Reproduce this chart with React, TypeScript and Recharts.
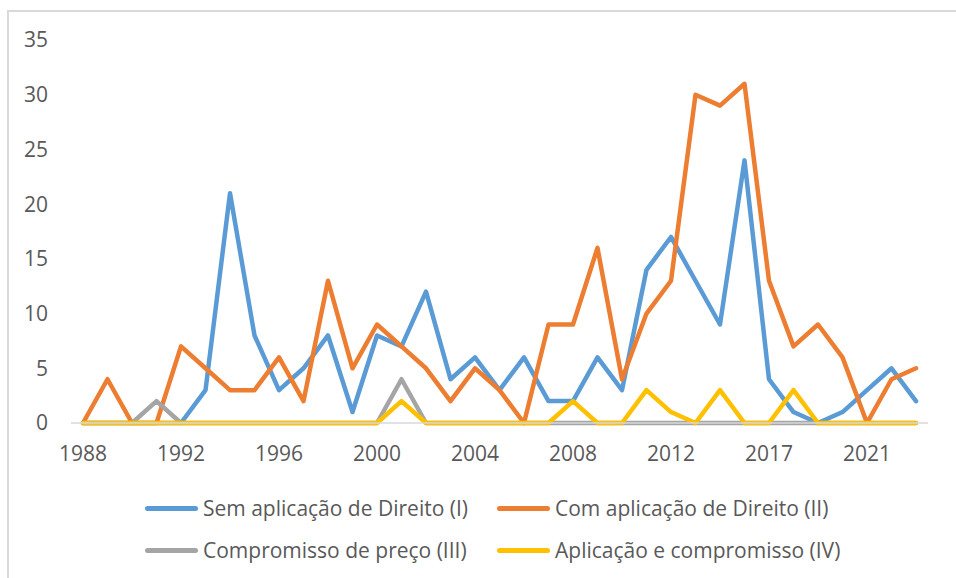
import React from 'react';
import { LineChart, Line, XAxis, YAxis, Legend } from 'recharts';

// Categories (the source skips 2016)
const years = [
  '1988', '1989', '1990', '1991', '1992', '1993', '1994', '1995', '1996', '1997',
  '1998', '1999', '2000', '2001', '2002', '2003', '2004', '2005', '2006', '2007',
  '2008', '2009', '2010', '2011', '2012', '2013', '2014', '2015', '2017', '2018',
  '2019', '2020', '2021', '2022', '2023',
];

const semAplicacao = [0, 0, 0, 0, 0, 3, 21, 8, 3, 5, 8, 1, 8, 7, 12, 4, 6, 3, 6, 2, 2, 6, 3, 14, 17, 13, 9, 24, 4, 1, 0, 1, 3, 5, 2];
const comAplicacao = [0, 4, 0, 0, 7, 5, 3, 3, 6, 2, 13, 5, 9, 7, 5, 2, 5, 3, 0, 9, 9, 16, 4, 10, 13, 30, 29, 31, 13, 7, 9, 6, 0, 4, 5];
const compromisso = [0, 0, 0, 2, 0, 0, 0, 0, 0, 0, 0, 0, 0, 4, 0, 0, 0, 0, 0, 0, 0, 0, 0, 0, 0, 0, 0, 0, 0, 0, 0, 0, 0, 0, 0];
const aplicacaoCompromisso = [0, 0, 0, 0, 0, 0, 0, 0, 0, 0, 0, 0, 0, 2, 0, 0, 0, 0, 0, 0, 2, 0, 0, 3, 1, 0, 3, 0, 0, 3, 0, 0, 0, 0, 0];

const yTicks = [0, 5, 10, 15, 20, 25, 30, 35];

const SERIES = [
  { key: 'sem', name: 'Sem aplicação de Direito (I)', color: '#5B9BD5' },
  { key: 'com', name: 'Com aplicação de Direito (II)', color: '#ED7D31' },
  { key: 'comp', name: 'Compromisso de preço (III)', color: '#A5A5A5' },
  { key: 'apl', name: 'Aplicação e compromisso (IV)', color: '#FFC000' },
];

const data = years.map((year, i) => ({
  year,
  sem: semAplicacao[i],
  com: comAplicacao[i],
  comp: compromisso[i],
  apl: aplicacaoCompromisso[i],
}));

const FONT = '"Open Sans", sans-serif';

const LegendBox = () => (
  <div
    style={{
      display: 'grid',
      gridTemplateColumns: '352px 420px',
      rowGap: 16,
      marginLeft: 145,
      fontFamily: FONT,
      fontSize: 21,
      color: '#595959',
    }}
  >
    {SERIES.map(s => (
      <div key={s.key} style={{ display: 'flex', alignItems: 'center', height: 26, whiteSpace: 'nowrap' }}>
        <span
          style={{
            display: 'inline-block',
            width: 53,
            height: 5,
            borderRadius: 3,
            background: s.color,
            marginRight: 5,
          }}
        />
        {s.name}
      </div>
    ))}
  </div>
);

const App: React.FC = () => {
  return (
    <div style={{ position: 'absolute', left: 0, top: 0, width: 956, height: 578, overflow: 'hidden', background: '#fff' }}>
      <div
        style={{
          position: 'absolute',
          left: 7,
          top: 10,
          width: 1000,
          height: 1000,
          borderLeft: '2px solid #D9D9D9',
          borderTop: '2px solid #D9D9D9',
        }}
      />
      <LineChart
        width={956}
        height={578}
        data={data}
        margin={{ top: 40, right: 28, left: 21, bottom: 125 }}
        style={{ position: 'absolute', left: 0, top: 0 }}
      >
        <XAxis
          dataKey="year"
          interval={3}
          padding={{ left: 12, right: 12 }}
          axisLine={{ stroke: '#D9D9D9', strokeWidth: 1.5 }}
          tickLine={false}
          tickMargin={17}
          height={30}
          tick={{ fill: '#595959', fontSize: 21, fontFamily: FONT }}
        />
        <YAxis
          domain={[0, 35]}
          ticks={yTicks}
          width={50}
          axisLine={false}
          tickLine={false}
          tickMargin={17}
          tick={{ fill: '#595959', fontSize: 21, fontFamily: FONT }}
        />
        <Legend
          layout="horizontal"
          verticalAlign="middle"
          align="center"
          wrapperStyle={{ top: 495, left: 0, width: 956 }}
          content={() => <LegendBox />}
        />
        {SERIES.map(s => (
          <Line
            key={s.key}
            type="linear"
            dataKey={s.key}
            name={s.name}
            stroke={s.color}
            strokeWidth={4.5}
            strokeLinejoin="round"
            strokeLinecap="round"
            dot={false}
            activeDot={false}
            isAnimationActive={false}
          />
        ))}
      </LineChart>
    </div>
  );
};

export default App;
